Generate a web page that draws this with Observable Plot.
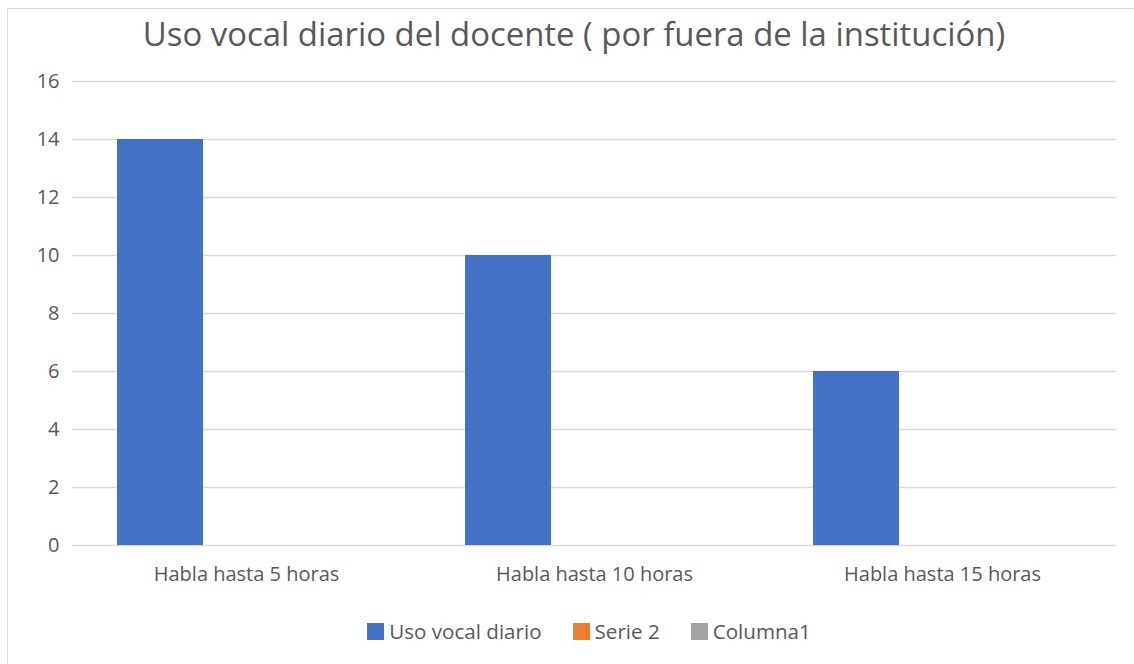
<!DOCTYPE html>
<html>
<head>
<meta charset="utf-8">
<script src="https://cdn.jsdelivr.net/npm/d3@7"></script>
<script src="https://cdn.jsdelivr.net/npm/@observablehq/plot@0.6"></script>
<style>
  html, body { margin: 0; padding: 0; background: #fff; }
  body { width: 1134px; height: 664px; position: relative; overflow: hidden; font-family: "Open Sans", sans-serif; }
  #frame { position: absolute; left: 7px; top: 8px; width: 1130px; height: 670px; border: 1px solid #d9d9d9; box-sizing: border-box; }
  #title { position: absolute; left: 11px; width: 1126px; top: 12px; text-align: center; font-size: 32.9px; color: #595959; line-height: 44px; white-space: nowrap; }
  #chart { position: absolute; left: 0; top: 60px; }
  #legend { position: absolute; left: 0; width: 1134px; top: 616px; display: flex; justify-content: center; padding-left: 44px; box-sizing: border-box; gap: 31px; font-size: 20.6px; color: #595959; line-height: 30px; }
  .item { display: flex; align-items: center; gap: 5px; }
  .sw { width: 17px; height: 17px; display: inline-block; }
</style>
</head>
<body>
<div id="frame"></div>
<div id="title">Uso vocal diario del docente ( por fuera de la institución)</div>
<div id="chart"></div>
<div id="legend"></div>
<script>
const categories = ["Habla hasta 5 horas", "Habla hasta 10 horas", "Habla hasta 15 horas"];
const seriesNames = ["Uso vocal diario", "Serie 2", "Columna1"];
const usoVocal = [14, 10, 6];
const serie2 = [null, null, null];
const columna1 = [null, null, null];
const colors = ["#4472C4", "#ED7D31", "#A5A5A5"];
const yTicks = [0, 2, 4, 6, 8, 10, 12, 14, 16];

const seriesValues = [usoVocal, serie2, columna1];
const rows = [];
categories.forEach((c, i) => {
  seriesNames.forEach((s, j) => {
    const v = seriesValues[j][i];
    if (v != null) rows.push({category: c, series: s, value: v});
  });
});

const plot = Plot.plot({
  width: 1134,
  height: 530,
  marginLeft: 71,
  marginRight: 18,
  marginTop: 21,
  marginBottom: 45,
  style: {fontFamily: "Open Sans, sans-serif", fontSize: "20px", color: "#595959", background: "transparent"},
  facet: {data: rows, x: "category"},
  fx: {domain: categories, padding: 0, paddingInner: 0, paddingOuter: 0, axis: "bottom", label: null, tickSize: 0, tickPadding: 21},
  x: {domain: seriesNames, paddingInner: 0, paddingOuter: 0.504, axis: null},
  y: {domain: [0, 16], ticks: yTicks, label: null, tickSize: 0, tickPadding: 13},
  color: {domain: seriesNames, range: colors},
  marks: [
    Plot.ruleY(yTicks, {stroke: "#d9d9d9", strokeWidth: 1.5}),
    Plot.barY(rows, {x: "series", y: "value", fill: "series"})
  ]
});
document.getElementById("chart").appendChild(plot);

const legend = document.getElementById("legend");
seriesNames.forEach((s, i) => {
  const item = document.createElement("div");
  item.className = "item";
  const sw = document.createElement("span");
  sw.className = "sw";
  sw.style.background = colors[i];
  const t = document.createElement("span");
  t.textContent = s;
  item.appendChild(sw);
  item.appendChild(t);
  legend.appendChild(item);
});
</script>
</body>
</html>
